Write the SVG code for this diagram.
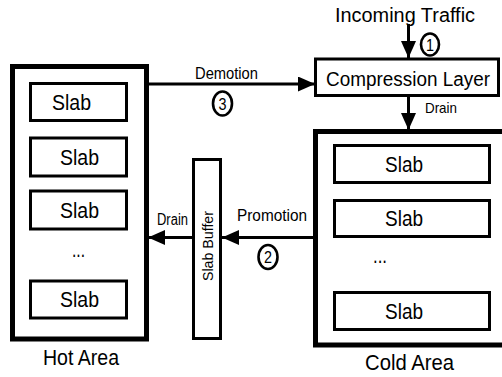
<svg xmlns="http://www.w3.org/2000/svg" width="502" height="377" viewBox="0 0 502 377">
  <defs>
    <marker id="arrow" markerUnits="userSpaceOnUse" markerWidth="18" markerHeight="16" refX="17" refY="7.5" orient="auto">
      <path d="M0,0 L17,7.5 L0,15 z" fill="#000"/>
    </marker>
    <style>
      text { font-family: "Liberation Sans Narrow", "Liberation Sans", Arial, sans-serif; fill: #000; text-anchor: middle; }
      .area { fill: #fff; stroke: #000; stroke-width: 5; }
      .slab { fill: #fff; stroke: #000; stroke-width: 3; }
      .box { fill: #fff; stroke: #000; stroke-width: 3; }
      .slabtxt { font-size: 22px; }
      .title { font-size: 22px; }
      .lbl { font-size: 16px; }
      .step { fill: #fff; stroke: #000; stroke-width: 2.6; }
      .steptxt { font-size: 16px; }
      .conn { stroke: #000; stroke-width: 3; fill: none; marker-end: url(#arrow); }
    </style>
  </defs>
  <rect width="502" height="377" fill="#fff"/>

  <!-- Hot area with its slabs -->
  <g id="hot-area">
    <rect class="area" x="12.5" y="66.5" width="134" height="272.5"/>
    <rect class="slab" x="30.5" y="83.5" width="96" height="37"/>
    <text class="slabtxt" x="71.5" y="110" textLength="39" lengthAdjust="spacingAndGlyphs">Slab</text>
    <rect class="slab" x="30.5" y="138" width="96" height="38"/>
    <text class="slabtxt" x="79.5" y="165" textLength="39" lengthAdjust="spacingAndGlyphs">Slab</text>
    <rect class="slab" x="30.5" y="191" width="96" height="38"/>
    <text class="slabtxt" x="79.5" y="218" textLength="39" lengthAdjust="spacingAndGlyphs">Slab</text>
    <text class="slabtxt" x="78.5" y="257" textLength="13" lengthAdjust="spacingAndGlyphs">...</text>
    <rect class="slab" x="30.5" y="281" width="96" height="37"/>
    <text class="slabtxt" x="79.5" y="307" textLength="39" lengthAdjust="spacingAndGlyphs">Slab</text>
    <text class="title" x="81" y="365" textLength="76" lengthAdjust="spacingAndGlyphs">Hot Area</text>
  </g>

  <!-- Cold area with its slabs -->
  <g id="cold-area">
    <rect class="area" x="315.5" y="131.5" width="190" height="213.5"/>
    <rect class="slab" x="334.5" y="145.5" width="155" height="37"/>
    <text class="slabtxt" x="404" y="172" textLength="38" lengthAdjust="spacingAndGlyphs">Slab</text>
    <rect class="slab" x="334.5" y="200.5" width="155" height="36"/>
    <text class="slabtxt" x="404" y="226" textLength="38" lengthAdjust="spacingAndGlyphs">Slab</text>
    <text class="slabtxt" x="380" y="263" textLength="14" lengthAdjust="spacingAndGlyphs">...</text>
    <rect class="slab" x="334.5" y="292.5" width="155" height="37"/>
    <text class="slabtxt" x="404" y="319" textLength="38" lengthAdjust="spacingAndGlyphs">Slab</text>
    <text class="title" x="409.5" y="370" textLength="89" lengthAdjust="spacingAndGlyphs">Cold Area</text>
  </g>

  <!-- Compression layer -->
  <g id="compression-layer">
    <rect class="box" x="315.5" y="59" width="183" height="36.5"/>
    <text x="408" y="85.5" style="font-size:20px" textLength="164" lengthAdjust="spacingAndGlyphs">Compression Layer</text>
  </g>

  <!-- Slab buffer -->
  <g id="slab-buffer">
    <rect class="box" x="193.5" y="159.5" width="27" height="179"/>
    <text class="lbl" transform="translate(213,246) rotate(-90)" style="font-size:15px" textLength="70" lengthAdjust="spacingAndGlyphs">Slab Buffer</text>
  </g>

  <!-- Incoming traffic label -->
  <g id="incoming-traffic">
    <text x="405" y="22" style="font-size:20px" textLength="140" lengthAdjust="spacingAndGlyphs">Incoming Traffic</text>
  </g>

  <!-- Connectors -->
  <g id="connectors">
    <line class="conn" x1="408.5" y1="24" x2="408.5" y2="58"/>
    <line class="conn" x1="408.5" y1="96" x2="408.5" y2="130"/>
    <line class="conn" x1="149" y1="84" x2="315" y2="84"/>
    <line class="conn" x1="313" y1="237.5" x2="222" y2="237.5"/>
    <line class="conn" x1="193" y1="237.5" x2="148" y2="237.5"/>
  </g>

  <!-- Connector labels and step numbers -->
  <g id="labels">
    <text class="lbl" x="226.5" y="79" textLength="63" lengthAdjust="spacingAndGlyphs">Demotion</text>
    <text class="lbl" x="272" y="221" textLength="70" lengthAdjust="spacingAndGlyphs">Promotion</text>
    <text class="lbl" x="172.5" y="225" textLength="31" lengthAdjust="spacingAndGlyphs">Drain</text>
    <text x="441" y="113" style="font-size:15px" textLength="32" lengthAdjust="spacingAndGlyphs">Drain</text>
  </g>

  <g id="step-1">
    <ellipse class="step" cx="430" cy="44.5" rx="9" ry="11"/>
    <text class="steptxt" x="430" y="50.5" textLength="8" lengthAdjust="spacingAndGlyphs">1</text>
  </g>
  <g id="step-2">
    <ellipse class="step" cx="268" cy="257" rx="9.5" ry="12"/>
    <text class="steptxt" x="268" y="263" textLength="8" lengthAdjust="spacingAndGlyphs">2</text>
  </g>
  <g id="step-3">
    <ellipse class="step" cx="222.5" cy="103.5" rx="9.5" ry="12"/>
    <text class="steptxt" x="222.5" y="109.5" textLength="8" lengthAdjust="spacingAndGlyphs">3</text>
  </g>
</svg>
